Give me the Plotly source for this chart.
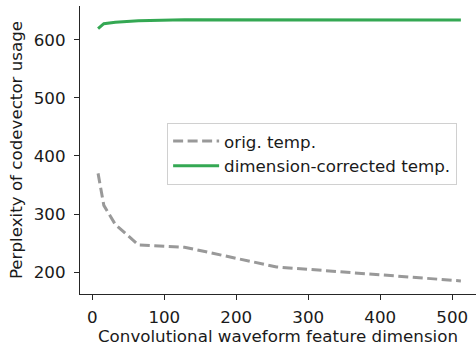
import plotly.graph_objects as go

dims = [8, 16, 32, 64, 128, 256, 512]
orig_temp = [370, 315, 282, 247, 243, 209, 185]
corrected_temp = [619, 627.5, 630, 632.5, 634.5, 634, 634]

FONT = "DejaVu Sans"
AX = "#262626"
TXT = "#1a1a1a"
F = dict(family=FONT, size=16.7, color=TXT)

fig = go.Figure()
fig.add_trace(go.Scatter(x=dims, y=orig_temp, mode="lines", name="orig. temp.",
                         line=dict(color="#999999", width=3, dash="10px,4.5px")))
fig.add_trace(go.Scatter(x=dims, y=corrected_temp, mode="lines", name="dimension-corrected temp.",
                         line=dict(color="#34a853", width=3)))

fig.update_layout(
    width=476, height=346,
    margin=dict(l=80, r=0, t=6, b=52),
    paper_bgcolor="white", plot_bgcolor="white",
    font=F,
    legend=dict(x=0.22, y=0.595, xanchor="left", yanchor="top",
                bgcolor="rgba(255,255,255,0.8)", bordercolor="#d0d0d0", borderwidth=1,
                font=F, tracegroupgap=0, itemwidth=46),
    showlegend=True,
)
fig.update_xaxes(range=[-17.1, 533], tickvals=[0, 100, 200, 300, 400, 500],
                 showgrid=False, zeroline=False, showline=True, linecolor=AX, linewidth=1.1,
                 ticks="outside", ticklen=5, tickwidth=1.1, tickcolor=AX,
                 ticklabelstandoff=3,
                 title=dict(text="Convolutional waveform feature dimension", standoff=4, font=F),
                 tickfont=F)
fig.update_yaxes(range=[162.5, 658], tickvals=[200, 300, 400, 500, 600],
                 showgrid=False, zeroline=False, showline=True, linecolor=AX, linewidth=1.1,
                 ticks="outside", ticklen=5, tickwidth=1.1, tickcolor=AX,
                 ticklabelstandoff=5,
                 title=dict(text="Perplexity of codevector usage", standoff=6, font=F),
                 tickfont=F)

fig.write_html("out.html")
